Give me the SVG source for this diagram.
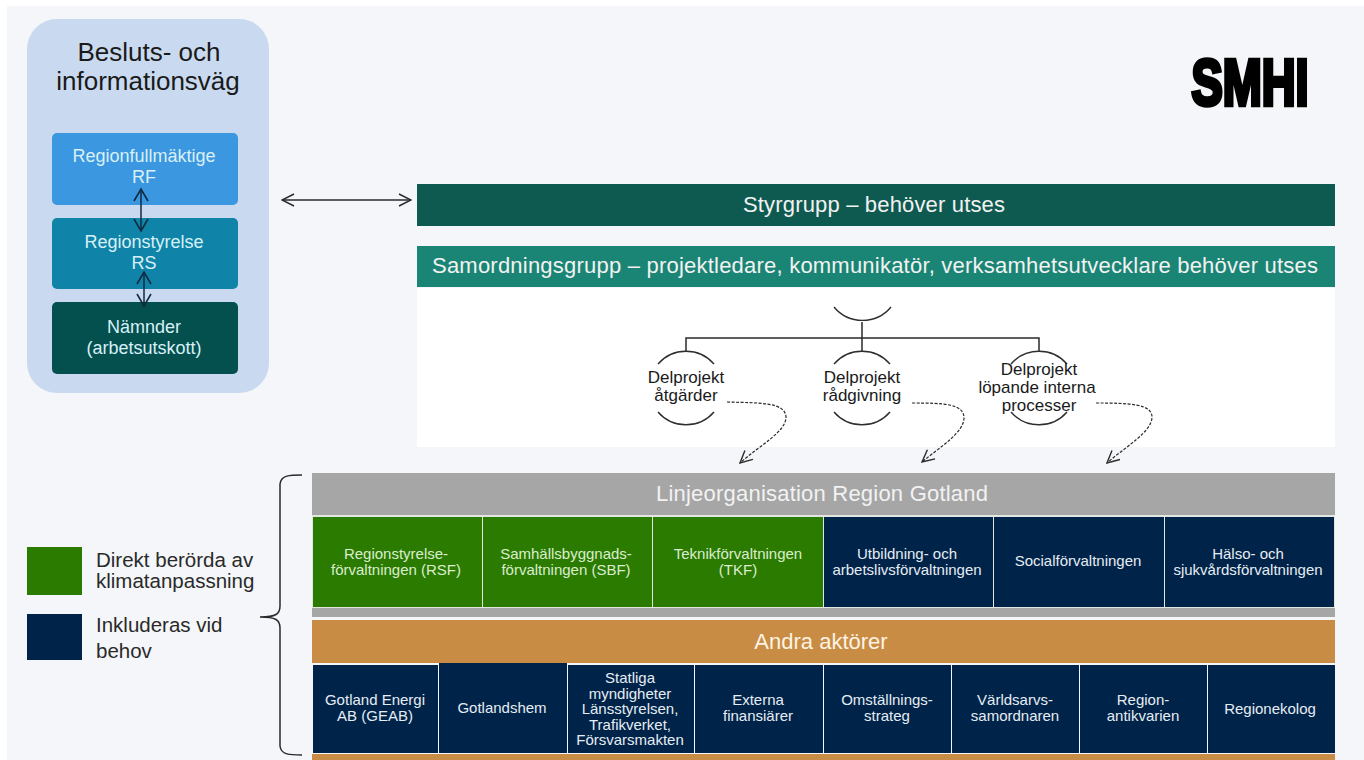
<svg xmlns="http://www.w3.org/2000/svg" width="1364" height="760" viewBox="0 0 1364 760">
<style>
text{font-family:"Liberation Sans",Arial,sans-serif;text-anchor:middle}
.c{font-size:15px;fill:#e6edf2}
.g{font-size:15px;fill:#dcedcf}
.h{font-size:22px;fill:#f2f2f2}
.b{font-size:18px;fill:#d8f0f6}
.d{font-size:17px;fill:#1a1a1a}
.l{font-size:20.5px;fill:#2a2a2a;text-anchor:start}
.t{font-size:26px;fill:#1a1a1a}
.navy{fill:#00234a}.green{fill:#2a7b00}
.line{fill:none;stroke:#2a2a2a;stroke-width:1.5}
.arc{fill:none;stroke:#2e2e2e;stroke-width:1.4}
.dash{fill:none;stroke:#2a2a2a;stroke-width:1.2;stroke-dasharray:3 1.5}
</style>
<defs>
<marker id="o" viewBox="0 0 14 14" refX="13" refY="7" markerWidth="14" markerHeight="14" orient="auto-start-reverse" markerUnits="userSpaceOnUse"><path d="M1 1L13 7L1 13" fill="none" stroke="#2a2a2a" stroke-width="1.4"/></marker>
<marker id="n" viewBox="0 0 16 16" refX="14" refY="8" markerWidth="16" markerHeight="16" orient="auto-start-reverse" markerUnits="userSpaceOnUse"><path d="M2 1L14 8L2 15" fill="none" stroke="#102a40" stroke-width="1.6"/></marker>
</defs>
<rect width="1364" height="760" fill="#fff"/>
<rect x="7" y="6" width="1357" height="754" fill="#f4f6f9"/>
<rect x="417" y="288" width="918" height="159" fill="#fff"/>

<g id="beslut-panel">
<rect x="27" y="19" width="242" height="374" rx="30" fill="#c9daf0"/>
<text class="t" x="149" y="61">Besluts- och</text>
<text class="t" x="148" y="90">informationsväg</text>
</g>
<g id="rf"><rect x="52" y="133" width="186" height="72" rx="5" fill="#3b97e0"/><text class="b" x="144" y="162">Regionfullmäktige</text><text class="b" x="144" y="183">RF</text></g>
<g id="rs"><rect x="52" y="218" width="186" height="71" rx="5" fill="#0f84a8"/><text class="b" x="144" y="248">Regionstyrelse</text><text class="b" x="144" y="269">RS</text></g>
<g id="namnder"><rect x="52" y="302" width="186" height="72" rx="5" fill="#04504f"/><text class="b" x="144" y="333">Nämnder</text><text class="b" x="144" y="354">(arbetsutskott)</text></g>

<g id="smhi"><text x="1250" y="105" font-size="64" font-weight="700" fill="#000" stroke="#000" stroke-width="4.5" textLength="117" lengthAdjust="spacingAndGlyphs">SMHI</text></g>

<g id="styrgrupp"><rect x="417" y="184" width="918" height="42" fill="#0f5a50"/><text class="h" x="874" y="212" textLength="262">Styrgrupp  – behöver utses</text></g>
<g id="samordning"><rect x="417" y="246" width="918" height="41" fill="#1b8575"/><text class="h" x="875" y="273" textLength="886" lengthAdjust="spacing">Samordningsgrupp – projektledare, kommunikatör, verksamhetsutvecklare behöver utses</text></g>

<g id="delprojekt-1"><path class="arc" d="M658 364A37 37 0 0 1 714 364M658 412A37 37 0 0 0 714 412"/><text class="d" x="686" y="383">Delprojekt</text><text class="d" x="686" y="401">åtgärder</text></g>
<g id="delprojekt-2"><path class="arc" d="M834 364A37 37 0 0 1 890 364M834 412A37 37 0 0 0 890 412"/><text class="d" x="862" y="383">Delprojekt</text><text class="d" x="862" y="401">rådgivning</text></g>
<g id="delprojekt-3"><path class="arc" d="M1011 364A37 37 0 0 1 1067 364M1011 412A37 37 0 0 0 1067 412"/><text class="d" x="1039" y="375">Delprojekt</text><text class="d" x="1037" y="393">löpande interna</text><text class="d" x="1039" y="411">processer</text></g>
<g id="tree-top"><path class="arc" d="M834 307A37 37 0 0 0 891 307"/></g>

<g id="linje">
<rect x="312" y="473" width="1023" height="144" fill="#a6a6a6"/>
<rect x="312" y="515" width="1023" height="93" fill="#e4e6e2"/>
<text class="h" x="822" y="501" textLength="332" lengthAdjust="spacing">Linjeorganisation Region Gotland</text>
</g>
<g id="rsf"><rect class="green" x="313" y="517" width="169" height="90"/><text class="g" x="396" y="559">Regionstyrelse-</text><text class="g" x="396" y="575">förvaltningen (RSF)</text></g>
<g id="sbf"><rect class="green" x="483" y="517" width="169" height="90"/><text class="g" x="566" y="559">Samhällsbyggnads-</text><text class="g" x="566" y="575">förvaltningen (SBF)</text></g>
<g id="tkf"><rect class="green" x="653" y="517" width="170" height="90"/><text class="g" x="738" y="559">Teknikförvaltningen</text><text class="g" x="738" y="575">(TKF)</text></g>
<g id="ua"><rect class="navy" x="824" y="517" width="169" height="90"/><text class="c" x="907" y="559">Utbildning- och</text><text class="c" x="907" y="575">arbetslivsförvaltningen</text></g>
<g id="soc"><rect class="navy" x="994" y="517" width="170" height="90"/><text class="c" x="1078" y="566">Socialförvaltningen</text></g>
<g id="hs"><rect class="navy" x="1165" y="517" width="169" height="90"/><text class="c" x="1248" y="559">Hälso- och</text><text class="c" x="1248" y="575">sjukvårdsförvaltningen</text></g>

<g id="andra">
<rect x="312" y="620" width="1023" height="43" fill="#c98c45"/>
<rect x="312" y="754" width="1023" height="6" fill="#c98c45"/>
<text class="h" x="821" y="649" style="fill:#fdf3e3">Andra aktörer</text>
</g>
<g id="geab"><rect class="navy" x="313" y="665" width="125" height="88"/><text class="c" x="375" y="705">Gotland Energi</text><text class="c" x="375" y="721">AB (GEAB)</text></g>
<g id="gotlandshem"><rect class="navy" x="439" y="663" width="128" height="90"/><text class="c" x="502" y="713">Gotlandshem</text></g>
<g id="statliga"><rect class="navy" x="568" y="665" width="126" height="88"/><text class="c" x="630" y="683">Statliga</text><text class="c" x="630" y="699">myndigheter</text><text class="c" x="630" y="714">Länsstyrelsen,</text><text class="c" x="630" y="730">Trafikverket,</text><text class="c" x="630" y="745">Försvarsmakten</text></g>
<g id="externa"><rect class="navy" x="695" y="665" width="128" height="88"/><text class="c" x="758" y="705">Externa</text><text class="c" x="758" y="721">finansiärer</text></g>
<g id="omst"><rect class="navy" x="824" y="665" width="127" height="88"/><text class="c" x="887" y="705">Omställnings-</text><text class="c" x="887" y="721">strateg</text></g>
<g id="varld"><rect class="navy" x="952" y="665" width="127" height="88"/><text class="c" x="1015" y="705">Världsarvs-</text><text class="c" x="1015" y="721">samordnaren</text></g>
<g id="antikvarien"><rect class="navy" x="1080" y="665" width="127" height="88"/><text class="c" x="1143" y="705">Region-</text><text class="c" x="1143" y="721">antikvarien</text></g>
<g id="ekolog"><rect class="navy" x="1208" y="665" width="127" height="88"/><text class="c" x="1270" y="714">Regionekolog</text></g>

<g id="legend-green"><rect class="green" x="27" y="547" width="55" height="48"/><text class="l" x="96" y="567">Direkt berörda av</text><text class="l" x="96" y="588">klimatanpassning</text></g>
<g id="legend-navy"><rect class="navy" x="27" y="614" width="55" height="46"/><text class="l" x="96" y="632">Inkluderas vid</text><text class="l" x="96" y="658">behov</text></g>

<g id="connectors">
<path class="line" d="M282 200H411" marker-start="url(#o)" marker-end="url(#o)"/>
<path class="line" d="M141 189V231" style="stroke:#102a40" marker-start="url(#n)" marker-end="url(#n)"/>
<path class="line" d="M144 272V306" style="stroke:#102a40" marker-start="url(#n)" marker-end="url(#n)"/>
<path class="line" d="M862 322V351M686 351V338H1039V351"/>
<path class="dash" d="M727 402C760 403 785 402 786 417C786 432 760 445 740 463" marker-end="url(#o)"/>
<path class="dash" d="M912 403C945 403 963 404 964 417C965 432 940 447 922 462" marker-end="url(#o)"/>
<path class="dash" d="M1096 403C1130 403 1152 404 1152 417C1152 432 1125 447 1107 463" marker-end="url(#o)"/>
<path class="line" d="M302 475C290 475 281 475 280 484V606C280 614 276 617 260 617C276 617 280 620 280 628V746C281 755 290 755 302 755"/>
</g>
</svg>
